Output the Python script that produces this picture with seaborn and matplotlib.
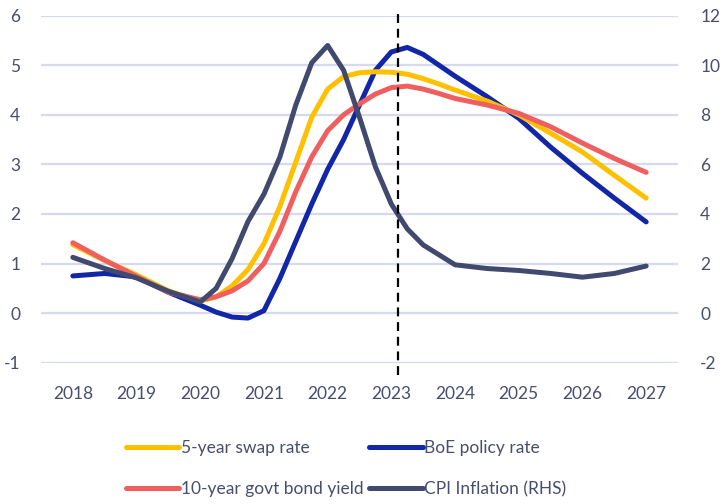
import matplotlib
matplotlib.use('Agg')
import matplotlib.pyplot as plt
import seaborn as sns

# Values (left axis: %, right axis: CPI %)
years = [2018, 2018.5, 2019, 2019.5, 2020, 2020.25, 2020.5, 2020.75, 2021, 2021.25,
         2021.5, 2021.75, 2022, 2022.25, 2022.5, 2022.75, 2023, 2023.25, 2023.5, 2023.75,
         2024, 2024.5, 2025, 2025.5, 2026, 2026.5, 2027]
swap_5y = [1.38, 1.06, 0.77, 0.45, 0.24, 0.33, 0.55, 0.88, 1.4, 2.15,
           3.05, 3.95, 4.52, 4.77, 4.85, 4.87, 4.86, 4.82, 4.73, 4.62,
           4.5, 4.28, 4.0, 3.63, 3.25, 2.78, 2.32]
boe_rate = [0.75, 0.8, 0.73, 0.42, 0.16, 0.02, -0.08, -0.1, 0.05, 0.7,
            1.45, 2.2, 2.9, 3.5, 4.2, 4.9, 5.27, 5.36, 5.22, 5.0,
            4.78, 4.37, 3.93, 3.35, 2.82, 2.32, 1.84]
gilt_10y = [1.42, 1.07, 0.74, 0.42, 0.27, 0.33, 0.45, 0.65, 1.0, 1.65,
            2.45, 3.15, 3.68, 4.0, 4.22, 4.42, 4.55, 4.58, 4.52, 4.43,
            4.33, 4.2, 4.03, 3.76, 3.43, 3.12, 2.84]
cpi = [2.25, 1.8, 1.42, 0.88, 0.45, 1.0, 2.2, 3.7, 4.8, 6.3,
       8.4, 10.1, 10.8, 9.8, 7.9, 5.9, 4.4, 3.4, 2.75, 2.35,
       1.95, 1.8, 1.72, 1.6, 1.45, 1.6, 1.9]
year_ticks = list(range(2018, 2028))
forecast_start = 2023.1

sns.set_style('white')
plt.rcParams['font.family'] = ['Lato', 'DejaVu Sans']
plt.rcParams['axes.unicode_minus'] = False

text_col = '#474e6e'
grid_col = '#d5daf0'
lw = 3.6
fs = 12.5

fig, ax = plt.subplots(figsize=(7.24, 5.04), dpi=100)
fig.subplots_adjust(left=0.0566, right=0.9365, bottom=0.2804, top=0.9688)
ax2 = ax.twinx()

line_kw = dict(lw=lw, solid_capstyle='round', solid_joinstyle='round', legend=False)
sns.lineplot(x=years, y=boe_rate, ax=ax, color='#1226a8', label='BoE policy rate', **line_kw)
sns.lineplot(x=years, y=swap_5y, ax=ax, color='#ffc000', label='5-year swap rate', **line_kw)
sns.lineplot(x=years, y=gilt_10y, ax=ax, color='#f05f5f', label='10-year govt bond yield', **line_kw)
sns.lineplot(x=years, y=cpi, ax=ax2, color='#414a6e', label='CPI Inflation (RHS)', **line_kw)

# forecast marker
ax2.axvline(forecast_start, ymin=-0.035, ymax=1.02, color='black', lw=1.6,
            ls=(0, (4, 2.6)), clip_on=False, zorder=5)

ax.set_xlim(2017.5, 2027.5)
ax.set_ylim(-1, 6)
ax2.set_ylim(-2, 12)
ax.set_xticks(year_ticks)
ax.set_yticks(range(-1, 7))
ax2.set_yticks(range(-2, 13, 2))
ax.grid(axis='y', color=grid_col, lw=1.6)
ax.grid(axis='x', visible=False)
ax2.grid(False)
ax.set_axisbelow(True)

for a in (ax, ax2):
    for s in a.spines.values():
        s.set_visible(False)
    a.set_xlabel('')
    a.set_ylabel('')
ax.tick_params(axis='y', length=0, pad=15, labelsize=fs, labelcolor=text_col)
ax2.tick_params(axis='y', length=0, pad=16, labelsize=fs, labelcolor=text_col)
ax.tick_params(axis='x', length=0, pad=17, labelsize=fs, labelcolor=text_col)

# legend: row1 swap / BoE, row2 gilt / CPI
h1, l1 = ax.get_legend_handles_labels()
h2, l2 = ax2.get_legend_handles_labels()
hd = dict(zip(l1 + l2, h1 + h2))
order = ['5-year swap rate', '10-year govt bond yield', 'BoE policy rate', 'CPI Inflation (RHS)']
leg = fig.legend([hd[k] for k in order], order, loc='center', bbox_to_anchor=(0.478, 0.07),
                 ncol=2, frameon=False, fontsize=fs, handlelength=3.1, handletextpad=0.1,
                 columnspacing=0.3, labelspacing=1.45)
for t in leg.get_texts():
    t.set_color(text_col)

fig.savefig('out.png', dpi=100)
